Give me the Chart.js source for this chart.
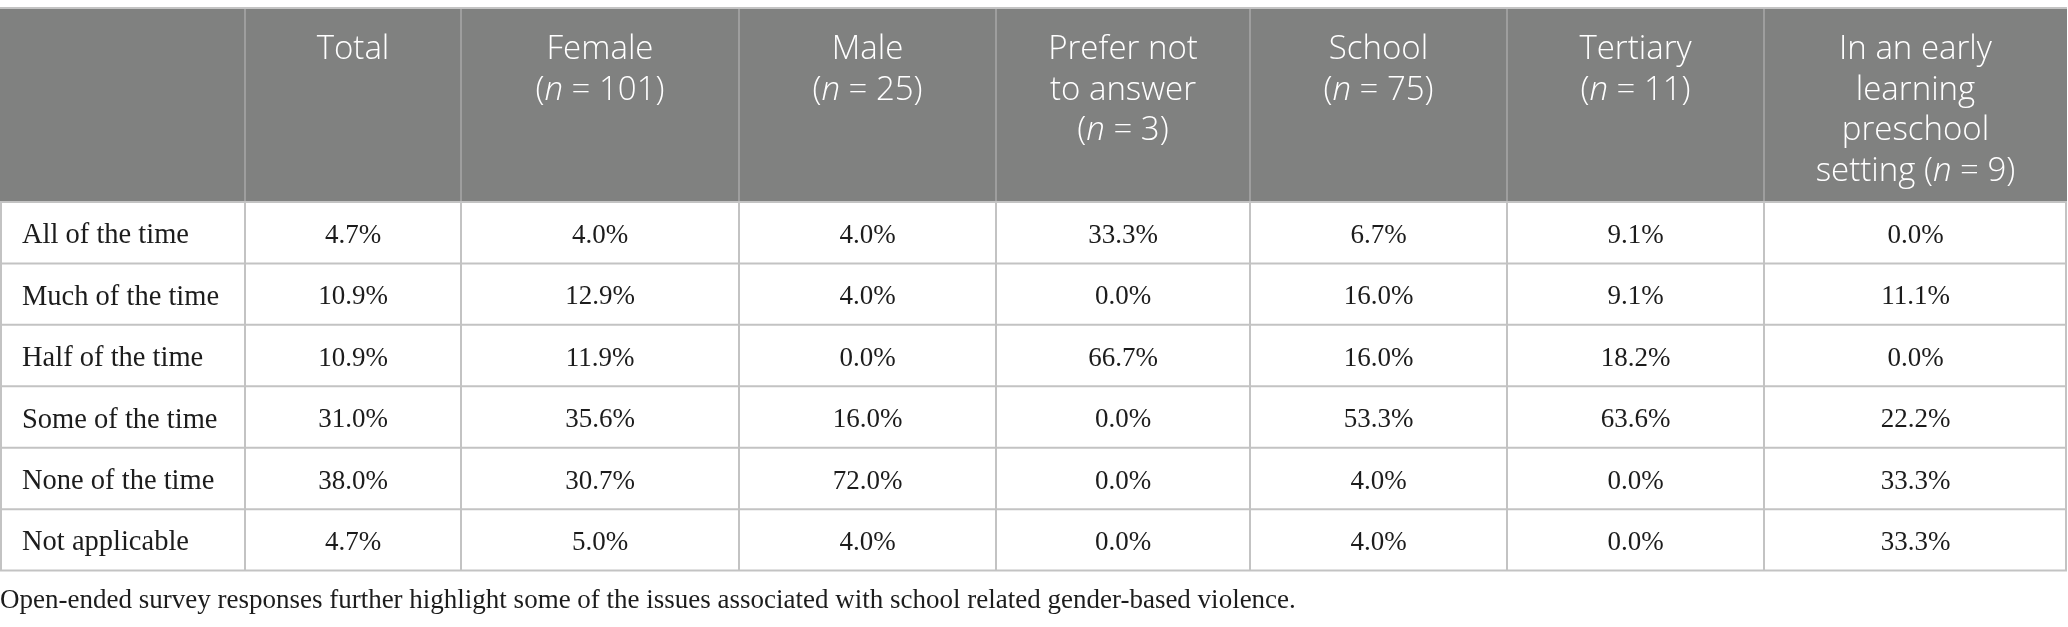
<!DOCTYPE html>
<html>
<head>
<meta charset="utf-8">
<script src="https://cdn.jsdelivr.net/npm/chart.js@4.4.1/dist/chart.umd.min.js"></script>
<style>
    html, body { margin: 0; padding: 0; background: #ffffff; }
    #wrap { width: 2068px; height: 627px; }
</style>
</head>
<body>
<div id="wrap"><canvas id="tableChart"></canvas></div>
<script>
// ========== DATA ==========
const rowLabels = [
    'All of the time',
    'Much of the time',
    'Half of the time',
    'Some of the time',
    'None of the time',
    'Not applicable'
];

// header lines, _n_ marks italic text
const columnHeaders = [
    [],
    ['Total'],
    ['Female', '(_n_ = 101)'],
    ['Male', '(_n_ = 25)'],
    ['Prefer not', 'to answer', '(_n_ = 3)'],
    ['School', '(_n_ = 75)'],
    ['Tertiary', '(_n_ = 11)'],
    ['In an early', 'learning', 'preschool', 'setting (_n_ = 9)']
];

const totalValues    = [4.7, 10.9, 10.9, 31.0, 38.0, 4.7];
const femaleValues   = [4.0, 12.9, 11.9, 35.6, 30.7, 5.0];
const maleValues     = [4.0, 4.0, 0.0, 16.0, 72.0, 4.0];
const preferNotValues = [33.3, 0.0, 66.7, 0.0, 0.0, 0.0];
const schoolValues   = [6.7, 16.0, 16.0, 53.3, 4.0, 4.0];
const tertiaryValues = [9.1, 9.1, 18.2, 63.6, 0.0, 0.0];
const earlyValues    = [0.0, 11.1, 0.0, 22.2, 33.3, 33.3];

const valueColumns = [totalValues, femaleValues, maleValues, preferNotValues,
                      schoolValues, tertiaryValues, earlyValues];

const caption = 'Open-ended survey responses further highlight some of the issues associated with school related gender-based violence.';

// ========== LAYOUT / STYLE ==========
const columnWidths = [245, 216, 278, 257, 254, 257, 257, 303];
const columnEdges = columnWidths.reduce((acc, w) => { acc.push(acc[acc.length - 1] + w); return acc; }, [0]);
const columnCenters = columnWidths.map((w, i) => columnEdges[i] + w / 2);

const HEADER_TOP = 9;
const HEADER_BG = '#808180';
const HEADER_RULE = '#a9a9a9';
const GRID_COLOR = '#c3c3c3';
const TEXT_COLOR = '#1c1c1c';
const SANS = '"Open Sans", "Noto Sans", sans-serif';
const SERIF = '"Liberation Serif", "DejaVu Serif", serif';
const BODY_SIZE = 27;
const LABEL_SIZE = 28.5;
const HEAD_SIZE = 33;

// ========== TABLE PLUGIN ==========
function drawRichLine(ctx, text, cx, cy) {
    const parts = text.split('_');
    const fonts = parts.map((p, i) => (i % 2 ? 'italic ' : '') + '300 ' + HEAD_SIZE + 'px ' + SANS);
    let width = 0;
    parts.forEach((p, i) => { ctx.font = fonts[i]; width += ctx.measureText(p).width; });
    let xPos = cx - width / 2;
    parts.forEach((p, i) => {
        ctx.font = fonts[i];
        ctx.fillText(p, xPos, cy);
        xPos += ctx.measureText(p).width;
    });
}

const tablePlugin = {
    id: 'tablePlugin',
    beforeDatasetsDraw(chart) {
        const { ctx, chartArea, scales: { x, y } } = chart;
        const edges = columnEdges.map(e => x.getPixelForValue(e));
        const left = edges[0];
        const right = edges[edges.length - 1];
        const band = y.getPixelForValue(1) - y.getPixelForValue(0);
        const rowTops = rowLabels.map((l, i) => y.getPixelForValue(i) - band / 2);

        ctx.save();
        // header block
        ctx.fillStyle = HEADER_BG;
        ctx.fillRect(left, HEADER_TOP, right - left, chartArea.top - HEADER_TOP);

        ctx.strokeStyle = HEADER_RULE;
        ctx.lineWidth = 1.5;
        edges.slice(1, -1).forEach(ex => {
            ctx.beginPath();
            ctx.moveTo(ex, HEADER_TOP);
            ctx.lineTo(ex, chartArea.top);
            ctx.stroke();
        });

        // top rule
        ctx.strokeStyle = GRID_COLOR;
        ctx.lineWidth = 2;
        ctx.beginPath();
        ctx.moveTo(left, HEADER_TOP - 1);
        ctx.lineTo(right, HEADER_TOP - 1);
        ctx.stroke();

        // body grid
        ctx.strokeStyle = GRID_COLOR;
        ctx.lineWidth = 2;
        [...rowTops, chartArea.bottom].forEach(ry => {
            ctx.beginPath();
            ctx.moveTo(left, ry);
            ctx.lineTo(right, ry);
            ctx.stroke();
        });
        edges.forEach((ex, i) => {
            const px = i === 0 ? ex + 1 : (i === edges.length - 1 ? ex - 1 : ex);
            ctx.beginPath();
            ctx.moveTo(px, chartArea.top);
            ctx.lineTo(px, chartArea.bottom);
            ctx.stroke();
        });

        // header text
        ctx.fillStyle = '#ffffff';
        ctx.textBaseline = 'middle';
        ctx.textAlign = 'left';
        columnHeaders.forEach((lines, c) => {
            const cx = x.getPixelForValue(columnCenters[c]);
            lines.forEach((line, k) => {
                drawRichLine(ctx, line, cx, HEADER_TOP + 41 + k * 40.5);
            });
        });

        // row labels
        ctx.fillStyle = TEXT_COLOR;
        ctx.font = LABEL_SIZE + 'px ' + SERIF;
        rowLabels.forEach((label, i) => {
            ctx.fillText(label, left + 22, y.getPixelForValue(i) + 3);
        });
        ctx.restore();
    },
    afterDatasetsDraw(chart) {
        const { ctx } = chart;
        ctx.save();
        ctx.fillStyle = TEXT_COLOR;
        ctx.font = BODY_SIZE + 'px ' + SERIF;
        ctx.textAlign = 'center';
        ctx.textBaseline = 'middle';
        chart.data.datasets.forEach((ds, d) => {
            chart.getDatasetMeta(d).data.forEach((pt, i) => {
                ctx.fillText(ds.data[i].v.toFixed(1) + '%', pt.x, pt.y + 3);
            });
        });
        ctx.restore();
    }
};

// ========== BUILD CHART ==========
const datasets = valueColumns.map((values, c) => ({
    label: columnHeaders[c + 1].join(' ').replace(/_/g, ''),
    data: values.map((v, i) => ({ x: columnCenters[c + 1], y: rowLabels[i], v: v })),
    pointRadius: 0,
    pointHoverRadius: 0
}));

new Chart(document.getElementById('tableChart'), {
    type: 'scatter',
    data: { datasets: datasets },
    options: {
        responsive: true,
        maintainAspectRatio: false,
        animation: false,
        events: [],
        layout: { padding: { top: 202, bottom: 2, left: 0, right: 1 } },
        plugins: {
            legend: { display: false },
            tooltip: { enabled: false },
            title: {
                display: true,
                text: caption,
                position: 'bottom',
                align: 'start',
                color: TEXT_COLOR,
                font: { family: SERIF, size: BODY_SIZE, weight: 'normal' },
                padding: { top: 14, bottom: 8 }
            }
        },
        scales: {
            x: { type: 'linear', min: 0, max: columnEdges[columnEdges.length - 1], display: false },
            y: { type: 'category', labels: rowLabels, offset: true, display: false }
        }
    },
    plugins: [tablePlugin]
});
</script>
</body>
</html>
